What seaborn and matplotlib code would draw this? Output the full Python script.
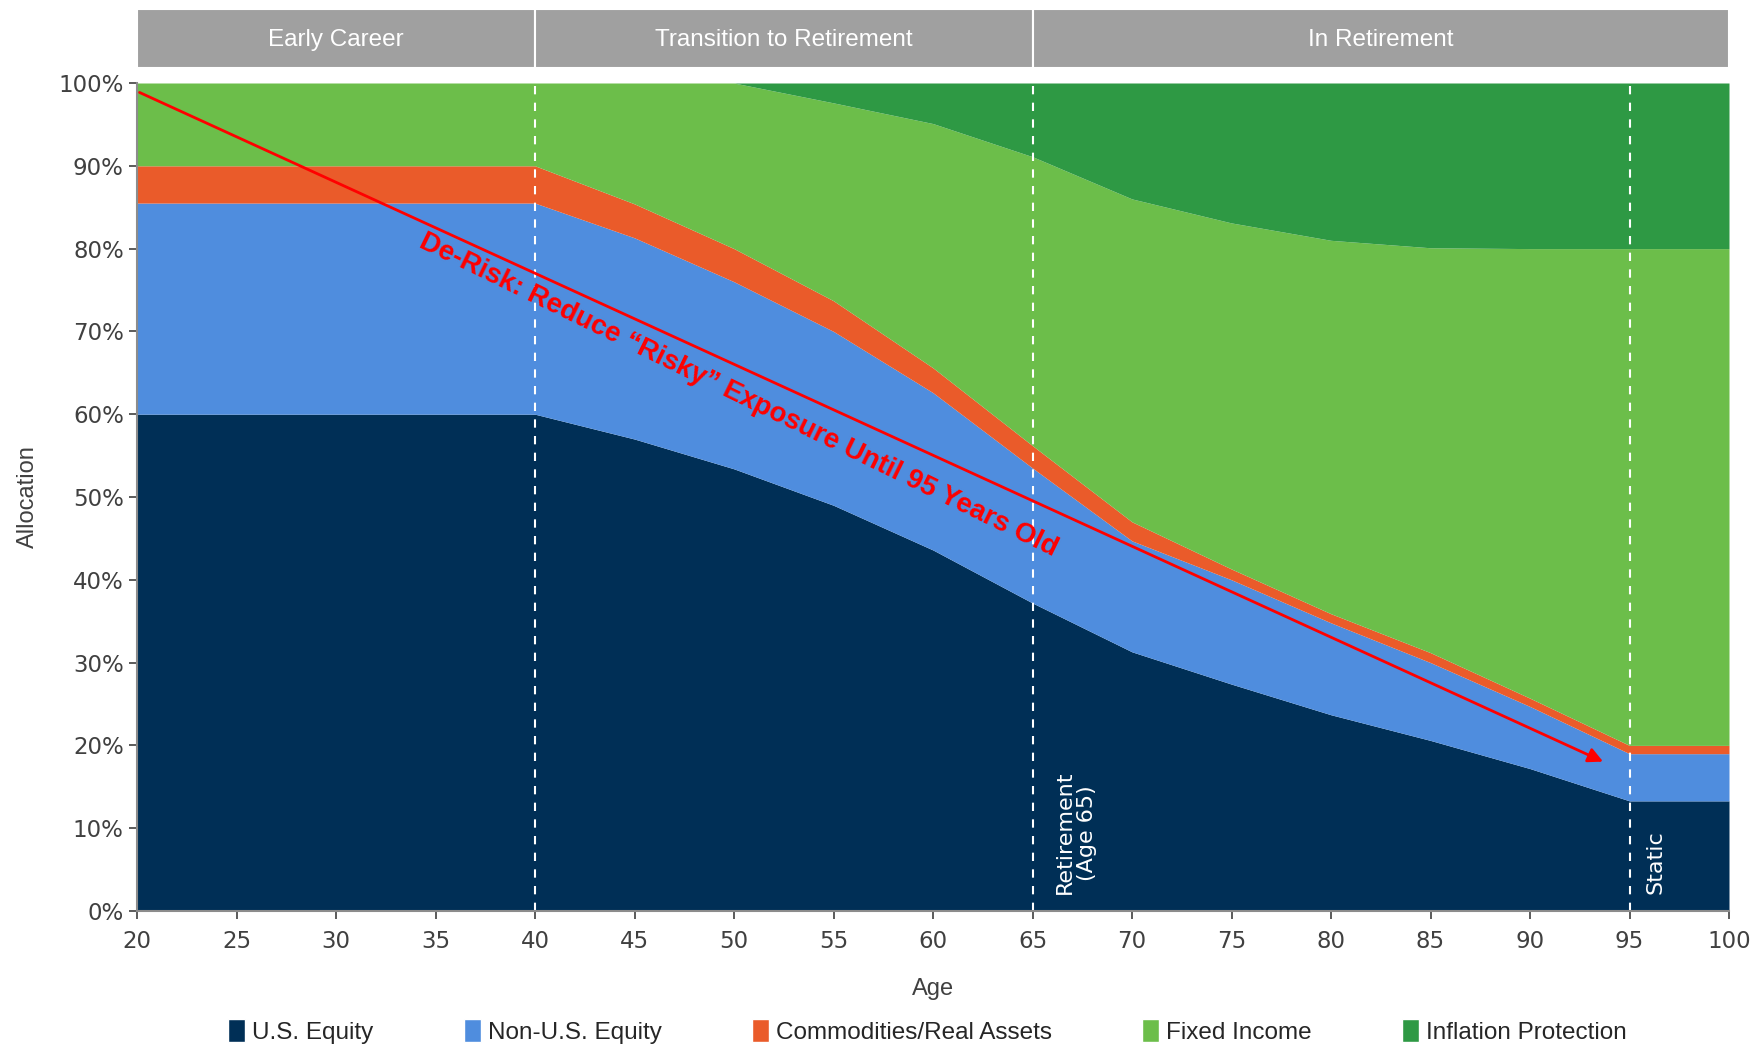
import numpy as np
import pandas as pd
import seaborn as sns
import matplotlib.pyplot as plt
from matplotlib.patches import Patch, Rectangle

ages = [20, 25, 30, 35, 40, 45, 50, 55, 60, 65, 70, 75, 80, 85, 90, 95, 100]
us_equity = [60, 60, 60, 60, 60, 57, 53.4, 49, 43.6, 37.2, 31.3, 27.4, 23.7, 20.6, 17.2, 13.3, 13.3]
non_us_equity = [25.5, 25.5, 25.5, 25.5, 25.5, 24.3, 22.6, 21, 19, 16.3, 13.4, 12.6, 11.1, 9.4, 7.5, 5.7, 5.7]
commodities = [4.5, 4.5, 4.5, 4.5, 4.5, 4.1, 4.0, 3.7, 3.0, 2.7, 2.3, 1.3, 1.1, 1.2, 1.0, 1.0, 1.0]
inflation = [0, 0, 0, 0, 0, 0, 0, 2.4, 4.9, 8.9, 14, 16.9, 19, 19.9, 20, 20, 20]
series_names = ["U.S. Equity", "Non-U.S. Equity", "Commodities/Real Assets", "Fixed Income", "Inflation Protection"]
phases = ["Early Career", "Transition to Retirement", "In Retirement"]
phase_edges = [20, 40, 65, 100]

df = pd.DataFrame({"age": ages, "U.S. Equity": us_equity, "Non-U.S. Equity": non_us_equity,
                   "Commodities/Real Assets": commodities, "Inflation Protection": inflation})
df["Fixed Income"] = 100 - df["U.S. Equity"] - df["Non-U.S. Equity"] - df["Commodities/Real Assets"] - df["Inflation Protection"]

colors = ["#002F56", "#4F8DDE", "#EA5B2A", "#6CBE4A", "#2E9944"]

sns.set_theme(style="white")
plt.rcParams['font.family'] = ['DejaVu Sans']
narrow = ['Liberation Sans Narrow', 'Liberation Sans', 'DejaVu Sans']

fig = plt.figure(figsize=(17.6, 10.45), dpi=100)
ax = fig.add_axes([137/1760, 1 - 911/1045, (1729-137)/1760, (911-83)/1045])
hdr = fig.add_axes([137/1760, 1 - 68/1045, (1729-137)/1760, (68-9)/1045], sharex=ax)

ax.stackplot(df["age"], [df[n] for n in series_names], colors=colors, linewidth=0)
ax.set_xlim(20, 100)
ax.set_ylim(0, 100)
ax.set_xticks(np.arange(20, 101, 5))
ax.set_yticks(np.arange(0, 101, 10))
ax.set_yticklabels([f"{v}%" for v in range(0, 101, 10)])
ax.tick_params(axis="both", labelsize=16.5, colors="#404040", length=6, width=1.2, direction="out",
               bottom=True, left=True)
ax.tick_params(axis="x", pad=8)
for s in ["top", "right"]:
    ax.spines[s].set_visible(False)
for s in ["left", "bottom"]:
    ax.spines[s].set_color("#8C8C8C")
    ax.spines[s].set_linewidth(1.5)
ax.set_xlabel("Age", fontsize=17, family=narrow, color="#404040", labelpad=18)
ax.set_ylabel("Allocation", fontsize=17, family=narrow, color="#404040", labelpad=14)

for x in [40, 65, 95]:
    ax.axvline(x, color="white", linestyle=(0, (4, 4)), linewidth=1.5)

ax.text(66.1, 2, "Retirement\n(Age 65)", rotation=90, color="white", fontsize=16,
        ha="left", va="bottom", multialignment="center", linespacing=1.15)
ax.text(95.8, 2, "Static", rotation=90, color="white", fontsize=16, ha="left", va="bottom")

ax.annotate("", xy=(93.8, 17.9), xytext=(20, 99),
            arrowprops=dict(arrowstyle="-|>", color="red", lw=2, mutation_scale=22))
ax.text(50.2, 62.3, "De-Risk: Reduce \u201cRisky\u201d Exposure Until 95 Years Old", color="red",
        fontsize=20, fontweight="bold", family=['Liberation Sans', 'DejaVu Sans'],
        rotation=-26.0, rotation_mode="anchor", ha="center", va="center")

# phase header
hdr.set_ylim(0, 1)
hdr.axis("off")
for i, name in enumerate(phases):
    a, b = phase_edges[i], phase_edges[i + 1]
    hdr.add_patch(Rectangle((a, 0), b - a, 1, facecolor="#A0A0A0", edgecolor="white", linewidth=1.5))
    hdr.text((a + b) / 2, 0.48, name, color="white", fontsize=17.5, family=narrow, ha="center", va="center")

handles = [Patch(facecolor=c, label=n) for c, n in zip(colors, series_names)]
fig.legend(handles=handles, loc="lower center", ncol=5, frameon=False, bbox_to_anchor=(0.527, -0.02),
           handlelength=0.7, handleheight=1.1, handletextpad=0.3, columnspacing=3.7,
           prop={"family": narrow, "size": 17.5})

fig.savefig("out.png", dpi=100)
